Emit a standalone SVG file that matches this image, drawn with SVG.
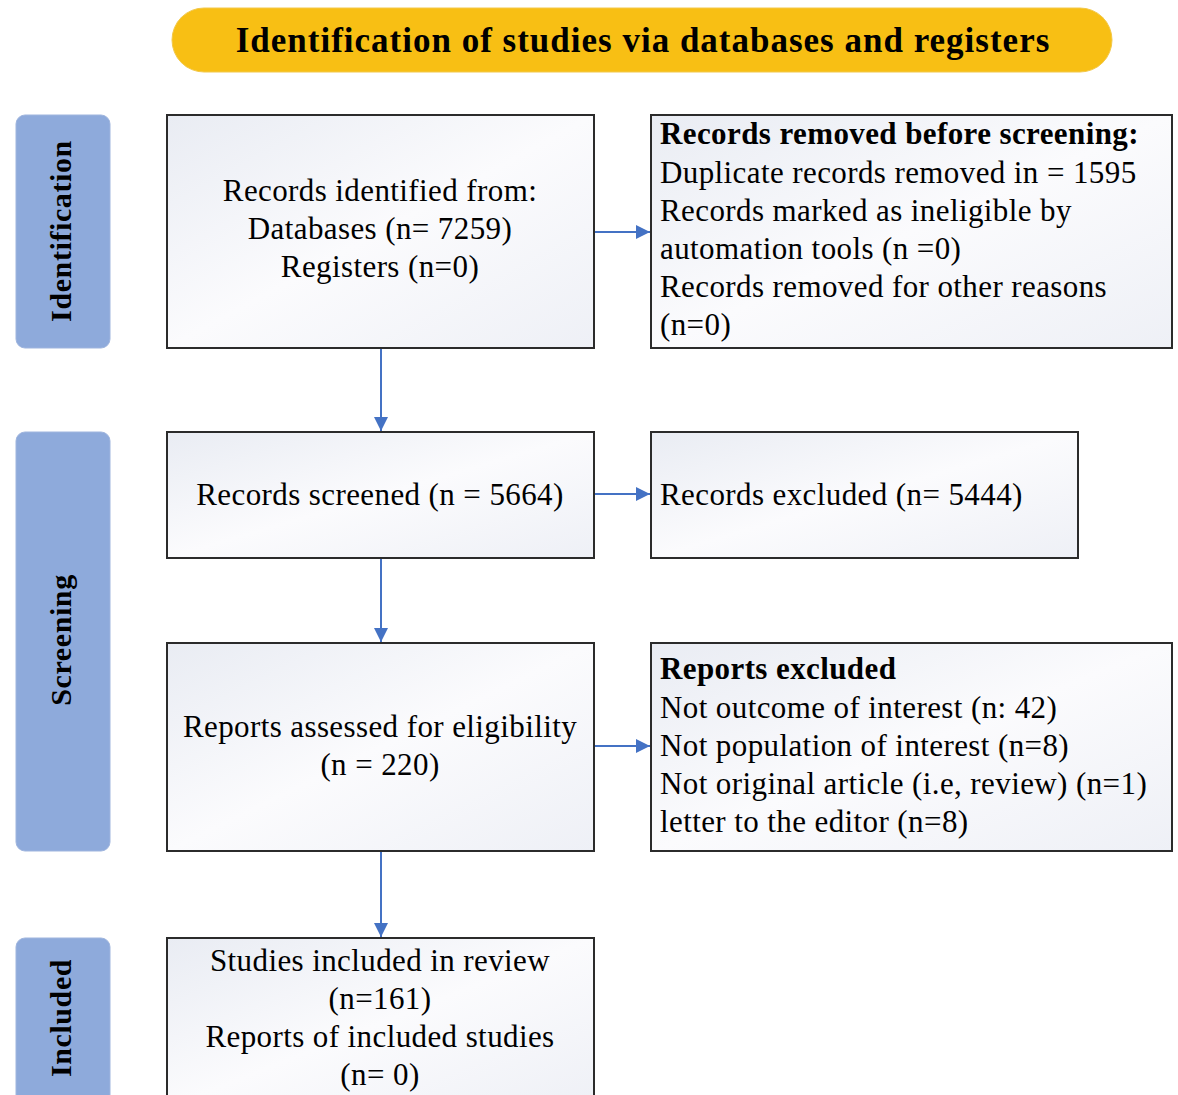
<svg xmlns="http://www.w3.org/2000/svg" width="1178" height="1095" viewBox="0 0 1178 1095">
<defs>
<linearGradient id="bx" x1="0" y1="0" x2="1" y2="1">
<stop offset="0" stop-color="#e9ecf3"/>
<stop offset="0.5" stop-color="#fbfbfd"/>
<stop offset="1" stop-color="#eef0f6"/>
</linearGradient>
<marker id="ah" viewBox="0 0 10 10" refX="10" refY="5" markerWidth="7" markerHeight="7" orient="auto" markerUnits="strokeWidth">
<path d="M0,0 L10,5 L0,10 z" fill="#4472c4"/>
</marker>
</defs>
<style>
.box{fill:url(#bx);stroke:#2b2b2b;stroke-width:2}
.side{fill:#8eaadb;stroke:#9fb5de;stroke-width:1}
.t{font-family:"Liberation Serif","Times New Roman",serif;font-size:31px;letter-spacing:0.4px;fill:#000}
.c{text-anchor:middle}
.b{font-weight:bold}
.st{font-family:"Liberation Serif","Times New Roman",serif;font-size:30px;letter-spacing:0.6px;font-weight:bold;fill:#000;text-anchor:middle}
.ln{stroke:#4472c4;stroke-width:2;fill:none;marker-end:url(#ah)}
</style>
<rect width="1178" height="1095" fill="#ffffff"/>
<g id="title">
<rect x="172" y="8" width="940" height="64" rx="32" fill="#f8bf14" stroke="#f2c84a" stroke-width="1"/>
<text class="t b c" x="643" y="52" style="font-size:35px;letter-spacing:1px">Identification of studies via databases and registers</text>
</g>
<g id="side-identification">
<rect class="side" x="16" y="115" width="94" height="233" rx="9"/>
<text class="st" transform="translate(71,231) rotate(-90)">Identification</text>
</g>
<g id="side-screening">
<rect class="side" x="16" y="432" width="94" height="419" rx="9"/>
<text class="st" transform="translate(71,640) rotate(-90)">Screening</text>
</g>
<g id="side-included">
<rect class="side" x="16" y="938" width="94" height="170" rx="9"/>
<text class="st" transform="translate(71,1018) rotate(-90)">Included</text>
</g>
<g id="n-identified">
<rect class="box" x="167" y="115" width="427" height="233"/>
<text class="t c" x="380" y="201">Records identified from:</text>
<text class="t c" x="380" y="239">Databases (n= 7259)</text>
<text class="t c" x="380" y="277">Registers (n=0)</text>
</g>
<g id="n-removed">
<rect class="box" x="651" y="115" width="521" height="233"/>
<text class="t b" x="660" y="144">Records removed before screening:</text>
<text class="t" x="660" y="183">Duplicate records removed in = 1595</text>
<text class="t" x="660" y="221">Records marked as ineligible by</text>
<text class="t" x="660" y="259">automation tools (n =0)</text>
<text class="t" x="660" y="297">Records removed for other reasons</text>
<text class="t" x="660" y="335">(n=0)</text>
</g>
<g id="n-screened">
<rect class="box" x="167" y="432" width="427" height="126"/>
<text class="t c" x="380" y="505">Records screened (n = 5664)</text>
</g>
<g id="n-excluded">
<rect class="box" x="651" y="432" width="427" height="126"/>
<text class="t" x="660" y="505">Records excluded (n= 5444)</text>
</g>
<g id="n-assessed">
<rect class="box" x="167" y="643" width="427" height="208"/>
<text class="t c" x="380" y="737">Reports assessed for eligibility</text>
<text class="t c" x="380" y="775">(n = 220)</text>
</g>
<g id="n-reports-excluded">
<rect class="box" x="651" y="643" width="521" height="208"/>
<text class="t b" x="660" y="679">Reports excluded</text>
<text class="t" x="660" y="718">Not outcome of interest (n: 42)</text>
<text class="t" x="660" y="756">Not population of interest (n=8)</text>
<text class="t" x="660" y="794">Not original article (i.e, review) (n=1)</text>
<text class="t" x="660" y="832">letter to the editor (n=8)</text>
</g>
<g id="n-included">
<rect class="box" x="167" y="938" width="427" height="170"/>
<text class="t c" x="380" y="971">Studies included in review</text>
<text class="t c" x="380" y="1009">(n=161)</text>
<text class="t c" x="380" y="1047">Reports of included studies</text>
<text class="t c" x="380" y="1085">(n= 0)</text>
</g>
<g id="connectors">
<line class="ln" x1="381" y1="349" x2="381" y2="431"/>
<line class="ln" x1="381" y1="559" x2="381" y2="642"/>
<line class="ln" x1="381" y1="852" x2="381" y2="937"/>
<line class="ln" x1="595" y1="232" x2="650" y2="232"/>
<line class="ln" x1="595" y1="494" x2="650" y2="494"/>
<line class="ln" x1="595" y1="746" x2="650" y2="746"/>
</g>
</svg>
